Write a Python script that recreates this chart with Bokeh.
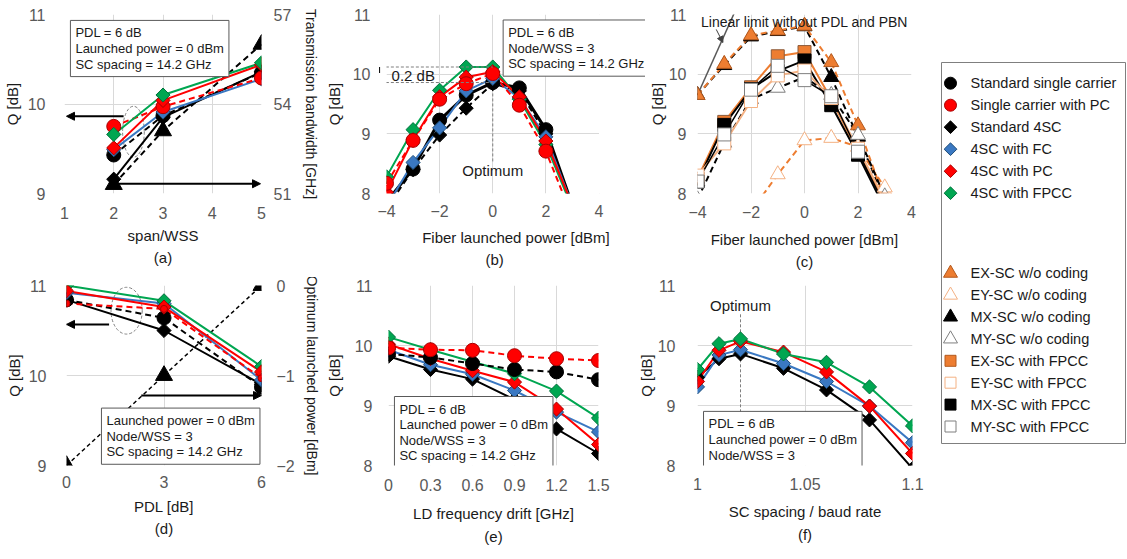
import numpy as np
from bokeh.plotting import figure
from bokeh.models import (Range1d, LinearAxis, FixedTicker, Label, Arrow, NormalHead, Title,
                          BoxAnnotation)
from bokeh.layouts import row, column
from bokeh.embed import file_html
from bokeh.resources import INLINE
from bokeh.core.properties import value

FONT = "Liberation Sans"
TICK_COLOR = "#595959"
TXT = "#1a1a1a"
GRID = "#d9d9d9"
BLACK = "#000000"
RED = "#ff0000"; RED_EDGE = "#a80000"
BLUE = "#3a78c2"; BLUE_EDGE = "#1f4e79"
GREEN = "#00a651"; GREEN_EDGE = "#00703c"
ORANGE = "#ed7d31"; ORANGE_EDGE = "#b35a1f"
LORANGE = "#f4b183"
GRAY = "#7f7f7f"
DASH = "6 4"
PI = np.pi

# ---------------- data: (a) Q vs span/WSS ----------------
a_x = [2, 3, 5]
a_std_sc = [9.43, 9.87, 10.35]
a_sc_pc = [9.75, 9.97, 10.29]
a_std_4sc = [9.16, 9.85, 10.36]
a_4sc_fc = [9.49, 9.91, 10.28]
a_4sc_pc = [9.51, 10.04, 10.44]
a_4sc_fpcc = [9.66, 10.10, 10.46]
a_bandwidth = [51.3, 53.1, 56.0]

# ---------------- data: (b) Q vs launched power ----------------
b_x = [-4, -3, -2, -1, 0, 1, 2, 3]
b_std_sc = [7.86, 8.41, 9.23, 9.65, 9.86, 9.77, 9.07, 7.80]
b_sc_pc = [8.17, 8.89, 9.58, 9.84, 10.01, 9.48, 8.71, 7.60]
b_std_4sc = [7.75, 8.40, 8.98, 9.43, 9.84, 9.72, 9.00, 7.80]
b_4sc_fc = [7.78, 8.52, 9.10, 9.72, 9.93, 9.60, 8.95, 7.80]
b_4sc_pc = [8.02, 8.90, 9.62, 9.95, 10.04, 9.62, 8.88, 7.80]
b_4sc_fpcc = [8.28, 9.07, 9.73, 10.12, 10.12, 9.58, 8.82, 7.75]

# ---------------- data: (c) per-subcarrier Q vs launched power ----------------
c_x = [-4, -3, -2, -1, 0, 1, 2, 3]
c_ex_nocode = [9.65, 10.17, 10.65, 10.73, 10.81, 10.20, 9.14, 7.90]
c_ey_x = [-2, -1, 0, 1, 2, 3]
c_ey_nocode = [7.70, 8.32, 8.89, 8.93, 8.78, 8.10]
c_mx_nocode = [9.65, 10.15, 10.63, 10.72, 10.80, 9.95, 8.95, 7.90]
c_my_nocode = [7.90, 8.85, 9.58, 9.77, 9.95, 9.65, 8.98, 7.95]
c_ex_fpcc = [8.25, 9.20, 9.78, 10.30, 10.37, 9.58, 8.70, 7.85]
c_ey_fpcc = [8.30, 8.84, 9.55, 9.98, 10.06, 9.60, 8.75, 7.90]
c_mx_fpcc = [8.20, 9.15, 9.75, 10.05, 10.23, 9.48, 8.65, 7.75]
c_my_fpcc = [8.20, 8.99, 9.74, 10.14, 9.90, 9.63, 8.70, 7.80]
c_linear_x = [-4.0, -2.3]
c_linear_q = [9.65, 11.35]

# ---------------- data: (d) Q vs PDL ----------------
d_x = [0, 3, 6]
d_std_sc = [10.84, 10.64, 9.87]
d_sc_pc = [10.80, 10.74, 9.97]
d_std_4sc = [10.84, 10.50, 9.90]
d_4sc_fc = [10.92, 10.80, 9.95]
d_4sc_pc = [10.94, 10.76, 10.04]
d_4sc_fpcc = [11.00, 10.83, 10.10]
d_opt_power = [-2.0, -1.0, 0.0]

# ---------------- data: (e) Q vs LD frequency drift ----------------
e_x = [0, 0.3, 0.6, 0.9, 1.2, 1.5]
e_std_sc = [9.86, 9.80, 9.70, 9.60, 9.56, 9.43]
e_sc_pc = [9.96, 9.93, 9.92, 9.83, 9.78, 9.75]
e_std_4sc = [9.82, 9.60, 9.44, 9.10, 8.61, 8.20]
e_4sc_fc = [9.93, 9.68, 9.52, 9.25, 8.89, 8.56]
e_4sc_pc = [10.02, 9.78, 9.58, 9.39, 8.94, 8.35]
e_4sc_fpcc = [10.14, 9.93, 9.73, 9.53, 9.24, 8.79]

# ---------------- data: (f) Q vs SC spacing / baud rate ----------------
f_x = [1.0, 1.01, 1.02, 1.04, 1.06, 1.08, 1.1]
f_std_4sc = [9.47, 9.78, 9.86, 9.62, 9.26, 8.76, 7.95]
f_4sc_fc = [9.31, 9.84, 9.93, 9.70, 9.40, 8.99, 8.38]
f_4sc_pc = [9.40, 9.92, 10.07, 9.89, 9.56, 8.99, 8.20]
f_4sc_fpcc = [9.60, 10.03, 10.11, 9.86, 9.72, 9.31, 8.66]

# ---------------- legend ----------------
legend_group1 = ["Standard single carrier", "Single carrier with PC", "Standard 4SC",
                 "4SC with FC", "4SC with PC", "4SC with FPCC"]
legend_group2 = ["EX-SC w/o coding", "EY-SC w/o coding", "MX-SC w/o coding", "MY-SC w/o coding",
                 "EX-SC with FPCC", "EY-SC with FPCC", "MX-SC with FPCC", "MY-SC with FPCC"]


def st(color, marker, size, fill, edge, dash="solid", lw=2.0, angle=0.0, mlw=1.0, yr="default"):
    return dict(color=color, marker=marker, size=size, fill=fill, edge=edge,
                dash=dash, lw=lw, angle=angle, mlw=mlw, yr=yr)


S_STD_SC = st(BLACK, "circle", 14, BLACK, BLACK, dash=DASH)
S_SC_PC = st(RED, "circle", 14, RED, RED_EDGE, dash=DASH)
S_STD_4SC = st(BLACK, "square", 10, BLACK, BLACK, angle=PI / 4)
S_FC = st(BLUE, "square", 10, BLUE, BLUE_EDGE, angle=PI / 4)
S_PC4 = st(RED, "square", 10, RED, RED_EDGE, angle=PI / 4)
S_FPCC = st(GREEN, "square", 10, GREEN, GREEN_EDGE, angle=PI / 4)


def draw(p, items):
    for x, y, s in items:
        p.line(x, y, line_color=s["color"], line_width=s["lw"], line_dash=s["dash"],
               y_range_name=s["yr"])
    for x, y, s in items:
        p.scatter(x, y, marker=s["marker"], size=s["size"], fill_color=s["fill"],
                  line_color=s["edge"], line_width=s["mlw"], angle=s["angle"],
                  y_range_name=s["yr"])


def style_axis(ax, lab_standoff, axis_standoff, label_size="15px"):
    ax.axis_line_color = None
    ax.major_tick_line_color = None
    ax.minor_tick_line_color = None
    ax.major_tick_in = 0
    ax.major_tick_out = 0
    ax.minor_tick_in = 0
    ax.minor_tick_out = 0
    ax.major_label_standoff = lab_standoff
    ax.axis_label_standoff = axis_standoff
    ax.major_label_text_font = FONT
    ax.major_label_text_font_size = "16px"
    ax.major_label_text_color = TICK_COLOR
    ax.axis_label_text_font = FONT
    ax.axis_label_text_font_size = label_size
    ax.axis_label_text_font_style = "normal"
    ax.axis_label_text_color = TXT


def new_fig(w, h, xr, yr, borders, xticks, yticks, xlabel, ylabel, xs, ys,
            title, title_standoff, xover=None, title_offset=None):
    l, r, t, b = borders
    p = figure(width=w, height=h, x_range=Range1d(*xr), y_range=Range1d(*yr),
               output_backend="svg", toolbar_location=None,
               min_border_left=l, min_border_right=r, min_border_top=t, min_border_bottom=b)
    p.outline_line_color = None
    p.border_fill_color = "white"
    p.background_fill_color = "white"
    xt = FixedTicker(ticks=xticks)
    yt = FixedTicker(ticks=yticks)
    p.xaxis.ticker = xt
    p.xgrid.ticker = xt
    p.yaxis.ticker = yt
    p.ygrid.ticker = yt
    p.grid.grid_line_color = GRID
    p.grid.grid_line_width = 1
    p.xaxis.axis_label = xlabel
    p.yaxis.axis_label = ylabel
    style_axis(p.xaxis[0], *xs)
    style_axis(p.yaxis[0], *ys)
    if xover:
        p.xaxis.major_label_overrides = xover
    if title_offset is None:
        t_obj = Title(text=title, align="center", text_font=FONT, text_font_size="15px",
                      text_font_style="normal", text_color=TXT, standoff=title_standoff)
    else:
        t_obj = Title(text=title, align="left", offset=title_offset, text_font=FONT,
                      text_font_size="15px", text_font_style="normal", text_color=TXT,
                      standoff=title_standoff)
    p.add_layout(t_obj, "below")
    return p


def add_box(p, x, y, lines):
    p.add_layout(Label(x=x, y=y, text="\n".join(lines), text_font=FONT, text_font_size="13px",
                       text_align="left", text_baseline="top", text_color=TXT,
                       background_fill_color="white", border_line_color="#595959",
                       border_line_width=1, padding=5, text_line_height=1.04))


def add_arrow(p, x0, y0, x1, y1, size=8, lw=2, color=BLACK, dash="solid", head=True):
    end = NormalHead(size=size, fill_color=color, line_color=color, line_width=1) if head else None
    p.add_layout(Arrow(end=end, x_start=x0, y_start=y0, x_end=x1, y_end=y1,
                       line_color=color, line_width=lw, line_dash=dash))


def add_text(p, x, y, txt, size="15px", align="center"):
    p.add_layout(Label(x=x, y=y, text=txt, text_font=FONT, text_font_size=size,
                       text_align=align, text_baseline="middle", text_color=TXT))


# ================= (a) =================
fa = new_fig(322, 277, (1, 5), (9, 11), (63, 59, 12, 82), [1, 2, 3, 4, 5], [9, 10, 11],
             "span/WSS", "Q [dB]", (13, 5), (19, 4), "(a)", 0)
fa.extra_y_ranges = {"bw": Range1d(51, 57)}
ra = LinearAxis(y_range_name="bw", axis_label="Transmission bandwidth [GHz]",
                ticker=FixedTicker(ticks=[51, 54, 57]))
style_axis(ra, 12, 9, label_size="14px")
fa.add_layout(ra, "right")
fa.ellipse(x=[2.4], y=[9.69], width=[0.44], height=[0.57], fill_color=None,
           line_color=GRAY, line_dash="3 2", line_width=1)
draw(fa, [
    (a_x, a_bandwidth, st(BLACK, "triangle", 17, BLACK, BLACK, dash=DASH, yr="bw")),
    (a_x, a_std_sc, S_STD_SC),
    (a_x, a_std_4sc, S_STD_4SC),
    (a_x, a_4sc_fc, S_FC),
    (a_x, a_sc_pc, S_SC_PC),
    (a_x, a_4sc_pc, S_PC4),
    (a_x, a_4sc_fpcc, S_FPCC),
])
add_arrow(fa, 2.2, 9.863, 1.04, 9.863)
add_arrow(fa, 2.0, 9.109, 4.98, 9.109)
add_box(fa, 1.12, 10.934, ["PDL = 6 dB", "Launched power = 0 dBm", "SC spacing = 14.2 GHz"])

# ================= (b) =================
fb = new_fig(323, 277, (-4, 5.75), (8, 11), (61, 0, 14, 83), [-4, -2, 0, 2, 4], [8, 9, 10, 11],
             "Fiber launched power [dBm]", "Q [dB]", (11, 9), (16, 7), "(b)", 0,
             title_offset=99)
fb.xaxis.bounds = (-4, 4)
fb.add_layout(BoxAnnotation(left=4, fill_color="white", fill_alpha=1.0, line_color=None,
                            level="underlay"))
fb.segment(x0=[0], y0=[10.18], x1=[0], y1=[8.52], line_color=GRAY, line_dash="3 2", line_width=1)
add_arrow(fb, -4.4, 10.12, 0.0, 10.12, lw=1, color=GRAY, dash="3 2", head=False)
add_arrow(fb, -4.4, 9.86, 0.0, 9.86, lw=1, color=GRAY, dash="3 2", head=False)
draw(fb, [
    (b_x, b_std_sc, st(BLACK, "circle", 14, BLACK, BLACK, lw=3)),
    (b_x, b_std_4sc, st(BLACK, "square", 10, BLACK, BLACK, dash=DASH, angle=PI / 4)),
    (b_x, b_4sc_fc, S_FC),
    (b_x, b_4sc_fpcc, S_FPCC),
    (b_x, b_4sc_pc, S_PC4),
    (b_x, b_sc_pc, S_SC_PC),
])
add_arrow(fb, -4.26, 9.86, -4.26, 10.12, size=6, lw=1)
add_text(fb, -3.81, 9.98, "0.2 dB", align="left")
add_text(fb, 0, 8.38, "Optimum")
add_box(fb, 0.391, 10.908, ["PDL = 6 dB", "Node/WSS = 3", "SC spacing = 14.2 GHz"])

# ================= (c) =================
fc = new_fig(285, 277, (-4, 4), (8, 11), (48, 19, 13, 84), [-4, -2, 0, 2, 4], [8, 9, 10, 11],
             "Fiber launched power [dBm]", "Q [dB]", (12, 10), (11, 0), "(c)", 0)
fc.line(c_linear_x, c_linear_q, line_color="#595959", line_width=1.5)
draw(fc, [
    (c_x, c_mx_nocode, st(BLACK, "triangle", 15, BLACK, BLACK, dash=DASH)),
    (c_x, c_ex_nocode, st(ORANGE, "triangle", 15, ORANGE, ORANGE_EDGE, dash=DASH)),
    (c_ey_x, c_ey_nocode, st(ORANGE, "triangle", 15, "white", LORANGE, dash=DASH)),
    (c_x, c_my_nocode, st(BLACK, "triangle", 15, "white", GRAY, dash=DASH)),
    (c_x, c_ex_fpcc, st(ORANGE, "square", 13, ORANGE, "#8a5a3a")),
    (c_x, c_mx_fpcc, st(BLACK, "square", 13, BLACK, BLACK)),
    (c_x, c_ey_fpcc, st(LORANGE, "square", 13, "white", LORANGE)),
    (c_x, c_my_fpcc, st(BLACK, "square", 13, "white", GRAY, lw=1.5)),
])
add_arrow(fc, -3.3, 10.75, -3.05, 10.53, size=6, lw=1, color="#404040")
add_text(fc, 0.0, 10.88, "Linear limit without PDL and PBN", size="14px")

# ================= (d) =================
fd = new_fig(322, 281, (0, 6), (9, 11), (66, 55, 8, 88), [0, 3, 6], [9, 10, 11],
             "PDL [dB]", "Q [dB]", (10, 7), (20, 3), "(d)", 1)
fd.extra_y_ranges = {"pw": Range1d(-2, 0)}
rd = LinearAxis(y_range_name="pw", axis_label="Optimum launched power [dBm]",
                ticker=FixedTicker(ticks=[-2, -1, 0]))
style_axis(rd, 15, 6, label_size="14px")
fd.add_layout(rd, "right")
fd.ellipse(x=[1.85], y=[10.72], width=[0.96], height=[0.52], fill_color=None,
           line_color=GRAY, line_dash="3 2", line_width=1)
draw(fd, [
    (d_x, d_opt_power, st(BLACK, "triangle", 17, BLACK, BLACK, dash="4 3", lw=1.5, yr="pw")),
    (d_x, d_std_4sc, S_STD_4SC),
    (d_x, d_std_sc, S_STD_SC),
    (d_x, d_4sc_fc, S_FC),
    (d_x, d_4sc_fpcc, S_FPCC),
    (d_x, d_4sc_pc, S_PC4),
    (d_x, d_sc_pc, st(RED, "circle", 7, RED, RED_EDGE, dash=DASH)),
])
add_arrow(fd, 1.31, 10.568, 0.0, 10.568)
add_arrow(fd, 2.3, 9.778, 6.0, 9.778)
add_box(fd, 1.075, 9.638, ["Launched power = 0 dBm", "Node/WSS = 3", "SC spacing = 14.2 GHz"])

# ================= (e) =================
e_over = {0: "0", 0.3: "0.3", 0.6: "0.6", 0.9: "0.9", 1.2: "1.2", 1.5: "1.5"}
fe = new_fig(308, 281, (0, 1.5), (8, 11), (64, 32, 8, 93), e_x, [8, 9, 10, 11],
             "LD frequency drift [GHz]", "Q [dB]", (13, 11), (16, 9), "(e)", 3, xover=e_over)
draw(fe, [
    (e_x, e_std_4sc, S_STD_4SC),
    (e_x, e_4sc_fc, S_FC),
    (e_x, e_4sc_pc, S_PC4),
    (e_x, e_4sc_fpcc, S_FPCC),
    (e_x, e_std_sc, S_STD_SC),
    (e_x, e_sc_pc, S_SC_PC),
])
add_box(fe, 0.0425, 9.15, ["PDL = 6 dB", "Launched power = 0 dBm", "Node/WSS = 3",
                           "SC spacing = 14.2 GHz"])

# ================= (f) =================
f_over = {1: "1", 1.05: "1.05", 1.1: "1.1"}
ff = new_fig(300, 281, (1.0, 1.1), (8, 11), (67, 18, 8, 90), [1, 1.05, 1.1], [8, 9, 10, 11],
             "SC spacing / baud rate", "Q [dB]", (12, 10), (22, 0), "(f)", 3, xover=f_over)
ff.segment(x0=[1.02], y0=[10.52], x1=[1.02], y1=[8.8], line_color=GRAY, line_dash="3 2",
           line_width=1)
draw(ff, [
    (f_x, f_std_4sc, S_STD_4SC),
    (f_x, f_4sc_fc, S_FC),
    (f_x, f_4sc_pc, S_PC4),
    (f_x, f_4sc_fpcc, S_FPCC),
])
add_text(ff, 1.02, 10.67, "Optimum")
add_box(ff, 1.0028, 8.902, ["PDL = 6 dB", "Launched power = 0 dBm", "Node/WSS = 3"])

# ================= legend =================
fl = figure(width=196, height=558, x_range=Range1d(0, 184), y_range=Range1d(381, 0),
            x_axis_type=None, y_axis_type=None, output_backend="svg", toolbar_location=None,
            min_border_left=11, min_border_right=1, min_border_top=62, min_border_bottom=115)
fl.outline_line_color = GRAY
fl.outline_line_width = 1
fl.grid.visible = False
leg_labels = legend_group1 + legend_group2
leg_y = list(20.7 + 22.0 * np.arange(len(legend_group1))) + \
    list(210.7 + 21.9 * np.arange(len(legend_group2)))
leg_marker = ["circle", "circle", "square", "square", "square", "square",
              "triangle", "triangle", "triangle", "triangle",
              "square", "square", "square", "square"]
leg_size = [12, 12, 9, 9, 9, 9, 14, 14, 14, 14, 11, 11, 11, 11]
leg_angle = [0, 0, PI / 4, PI / 4, PI / 4, PI / 4, 0, 0, 0, 0, 0, 0, 0, 0]
leg_fill = [BLACK, RED, BLACK, BLUE, RED, GREEN, ORANGE, "white", BLACK, "white",
            ORANGE, "white", BLACK, "white"]
leg_edge = [BLACK, RED_EDGE, BLACK, BLUE_EDGE, RED_EDGE, GREEN_EDGE, ORANGE_EDGE, LORANGE,
            BLACK, GRAY, ORANGE_EDGE, LORANGE, BLACK, GRAY]
fl.scatter(x=[9] * len(leg_labels), y=leg_y, marker=leg_marker, size=leg_size,
           angle=leg_angle, fill_color=leg_fill, line_color=leg_edge, line_width=1)
fl.text(x=[29] * len(leg_labels), y=leg_y, text=leg_labels, text_font=value(FONT),
        text_font_size="14.5px", text_baseline="middle", text_align="left", text_color=TXT)

layout = row(column(row(fa, fb, fc), row(fd, fe, ff)), fl)
open("out.html", "w").write(file_html(layout, INLINE))
